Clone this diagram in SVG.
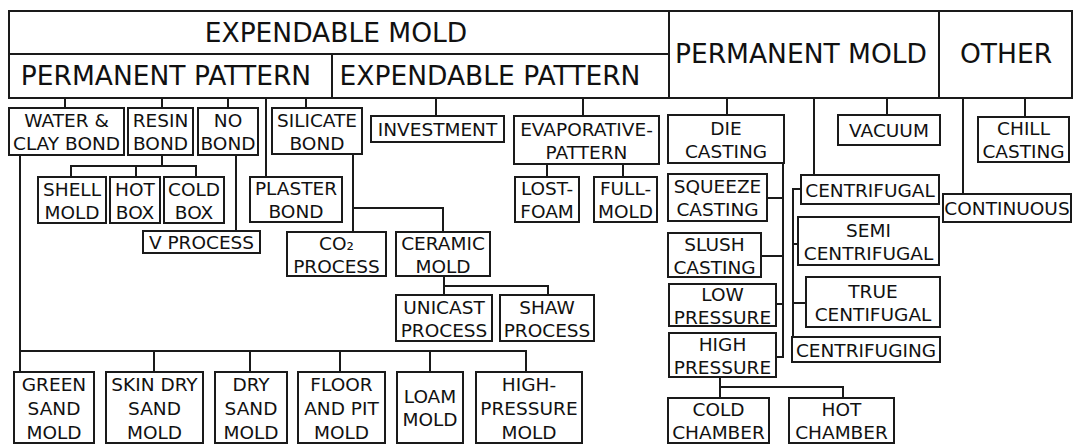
<svg xmlns="http://www.w3.org/2000/svg" width="1073" height="444" viewBox="0 0 1073 444">
<style>
.b{fill:#fff;stroke:#1a1a1a;stroke-width:2}
.c{fill:none;stroke:#1a1a1a;stroke-width:2}
text{font-family:"DejaVu Sans","Liberation Sans",sans-serif;fill:#111;text-anchor:middle}
.h{font-size:26.5px}
.t{font-size:18.5px}
</style>
<rect width="1073" height="444" fill="#fff"/>
<g id="header">
<rect class="b" x="9" y="11" width="660" height="43"/>
<rect class="b" x="9" y="54" width="323" height="44"/>
<rect class="b" x="332" y="54" width="337" height="44"/>
<rect class="b" x="669" y="11" width="270" height="87"/>
<rect class="b" x="939" y="11" width="133" height="87"/>
<text class="h" x="336" y="42">EXPENDABLE MOLD</text>
<text class="h" x="166" y="85">PERMANENT PATTERN</text>
<text class="h" x="490" y="85">EXPENDABLE PATTERN</text>
<text class="h" x="801" y="63">PERMANENT MOLD</text>
<text class="h" x="1006" y="63">OTHER</text>
</g>
<g id="connectors">
<path class="c" d="M65,98V108M162,98V108M228,98V108M306,98V108M266,98V177"/>
<path class="c" d="M436,98V116M583,98V116M547,164V177M623,164V177"/>
<path class="c" d="M162,155V166M71,177V166H196V177M136,166V177"/>
<path class="c" d="M236,155V231"/>
<path class="c" d="M20,155V372M20,351H526V372M154,351V372M250,351V372M340,351V372M430,351V372"/>
<path class="c" d="M353,154V232M353,208H443V232"/>
<path class="c" d="M444,276V295M444,286H548V295"/>
<path class="c" d="M727,98V115M814,98V175M887,98V115M963,98V194M1025,98V117"/>
<path class="c" d="M783,163V357H776M767,198H783M761,256H783M776,304H783"/>
<path class="c" d="M720,377V398M720,387H843V398"/>
<path class="c" d="M801,189H793V337M793,244H798M793,303H806"/>
</g>
<g id="water"><rect class="b" x="9" y="108" width="115" height="47"/><text class="t" x="66.5" y="127">WATER &amp;</text><text class="t" x="66.5" y="150">CLAY BOND</text></g>
<g id="resin"><rect class="b" x="128" y="108" width="65" height="47"/><text class="t" x="160.5" y="127">RESIN</text><text class="t" x="160.5" y="150">BOND</text></g>
<g id="nobond"><rect class="b" x="198" y="108" width="60" height="47"/><text class="t" x="228" y="127">NO</text><text class="t" x="228" y="150">BOND</text></g>
<g id="silicate"><rect class="b" x="272" y="108" width="90" height="46"/><text class="t" x="317" y="126.5">SILICATE</text><text class="t" x="317" y="149.5">BOND</text></g>
<g id="investment"><rect class="b" x="371" y="116" width="133" height="26"/><text class="t" x="437.5" y="136">INVESTMENT</text></g>
<g id="evaporative"><rect class="b" x="514" y="116" width="145" height="48"/><text class="t" x="586.5" y="135.5">EVAPORATIVE-</text><text class="t" x="586.5" y="158.5">PATTERN</text></g>
<g id="lostfoam"><rect class="b" x="515" y="177" width="64" height="45"/><text class="t" x="547" y="195">LOST-</text><text class="t" x="547" y="218">FOAM</text></g>
<g id="fullmold"><rect class="b" x="594" y="177" width="63" height="45"/><text class="t" x="625.5" y="195">FULL-</text><text class="t" x="625.5" y="218">MOLD</text></g>
<g id="shell"><rect class="b" x="38" y="177" width="68" height="46"/><text class="t" x="72" y="195.5">SHELL</text><text class="t" x="72" y="218.5">MOLD</text></g>
<g id="hotbox"><rect class="b" x="110" y="177" width="50" height="46"/><text class="t" x="135" y="195.5">HOT</text><text class="t" x="135" y="218.5">BOX</text></g>
<g id="coldbox"><rect class="b" x="164" y="177" width="60" height="46"/><text class="t" x="194" y="195.5">COLD</text><text class="t" x="194" y="218.5">BOX</text></g>
<g id="plaster"><rect class="b" x="250" y="177" width="92" height="45"/><text class="t" x="296" y="195">PLASTER</text><text class="t" x="296" y="218">BOND</text></g>
<g id="vprocess"><rect class="b" x="143" y="231" width="117" height="22"/><text class="t" x="201.5" y="249">V PROCESS</text></g>
<g id="co2"><rect class="b" x="287" y="232" width="99" height="44"/><text class="t" x="336.5" y="249.5">CO₂</text><text class="t" x="336.5" y="272.5">PROCESS</text></g>
<g id="ceramic"><rect class="b" x="396" y="232" width="94" height="44"/><text class="t" x="443" y="249.5">CERAMIC</text><text class="t" x="443" y="272.5">MOLD</text></g>
<g id="unicast"><rect class="b" x="396" y="295" width="96" height="46"/><text class="t" x="444" y="313.5">UNICAST</text><text class="t" x="444" y="336.5">PROCESS</text></g>
<g id="shaw"><rect class="b" x="500" y="295" width="94" height="46"/><text class="t" x="547" y="313.5">SHAW</text><text class="t" x="547" y="336.5">PROCESS</text></g>
<g id="green"><rect class="b" x="14" y="372" width="80" height="71"/><text class="t" x="54" y="390.5">GREEN</text><text class="t" x="54" y="414.5">SAND</text><text class="t" x="54" y="438.5">MOLD</text></g>
<g id="skindry"><rect class="b" x="106" y="372" width="97" height="71"/><text class="t" x="154.5" y="390.5">SKIN DRY</text><text class="t" x="154.5" y="414.5">SAND</text><text class="t" x="154.5" y="438.5">MOLD</text></g>
<g id="drysand"><rect class="b" x="215" y="372" width="72" height="71"/><text class="t" x="251" y="390.5">DRY</text><text class="t" x="251" y="414.5">SAND</text><text class="t" x="251" y="438.5">MOLD</text></g>
<g id="floorpit"><rect class="b" x="298" y="372" width="87" height="71"/><text class="t" x="341.5" y="390.5">FLOOR</text><text class="t" x="341.5" y="414.5">AND PIT</text><text class="t" x="341.5" y="438.5">MOLD</text></g>
<g id="loam"><rect class="b" x="397" y="372" width="66" height="71"/><text class="t" x="430" y="403">LOAM</text><text class="t" x="430" y="426">MOLD</text></g>
<g id="highpressuremold"><rect class="b" x="476" y="372" width="106" height="71"/><text class="t" x="529" y="390.5">HIGH-</text><text class="t" x="529" y="414.5">PRESSURE</text><text class="t" x="529" y="438.5">MOLD</text></g>
<g id="die"><rect class="b" x="668" y="115" width="116" height="48"/><text class="t" x="726" y="134.5">DIE</text><text class="t" x="726" y="157.5">CASTING</text></g>
<g id="squeeze"><rect class="b" x="668" y="174" width="99" height="47"/><text class="t" x="717.5" y="193">SQUEEZE</text><text class="t" x="717.5" y="216">CASTING</text></g>
<g id="slush"><rect class="b" x="668" y="233" width="93" height="44"/><text class="t" x="714.5" y="250.5">SLUSH</text><text class="t" x="714.5" y="273.5">CASTING</text></g>
<g id="lowpressure"><rect class="b" x="669" y="284" width="107" height="42"/><text class="t" x="722.5" y="300.5">LOW</text><text class="t" x="722.5" y="323.5">PRESSURE</text></g>
<g id="highpressure"><rect class="b" x="669" y="333" width="107" height="44"/><text class="t" x="722.5" y="350.5">HIGH</text><text class="t" x="722.5" y="373.5">PRESSURE</text></g>
<g id="coldchamber"><rect class="b" x="668" y="398" width="101" height="45"/><text class="t" x="718.5" y="416">COLD</text><text class="t" x="718.5" y="439">CHAMBER</text></g>
<g id="hotchamber"><rect class="b" x="789" y="398" width="105" height="45"/><text class="t" x="841.5" y="416">HOT</text><text class="t" x="841.5" y="439">CHAMBER</text></g>
<g id="vacuum"><rect class="b" x="838" y="115" width="102" height="30"/><text class="t" x="889" y="137">VACUUM</text></g>
<g id="centrifugal"><rect class="b" x="801" y="175" width="138" height="29"/><text class="t" x="870" y="196.5">CENTRIFUGAL</text></g>
<g id="semi"><rect class="b" x="798" y="217" width="141" height="48"/><text class="t" x="868.5" y="236.5">SEMI</text><text class="t" x="868.5" y="259.5">CENTRIFUGAL</text></g>
<g id="true"><rect class="b" x="806" y="277" width="134" height="50"/><text class="t" x="873" y="297.5">TRUE</text><text class="t" x="873" y="320.5">CENTIFUGAL</text></g>
<g id="centrifuging"><rect class="b" x="792" y="337" width="148" height="25"/><text class="t" x="866" y="356.5">CENTRIFUGING</text></g>
<g id="chill"><rect class="b" x="978" y="117" width="91" height="45"/><text class="t" x="1023.5" y="135">CHILL</text><text class="t" x="1023.5" y="158">CASTING</text></g>
<g id="continuous"><rect class="b" x="943" y="194" width="128" height="28"/><text class="t" x="1007" y="215">CONTINUOUS</text></g>
</svg>
